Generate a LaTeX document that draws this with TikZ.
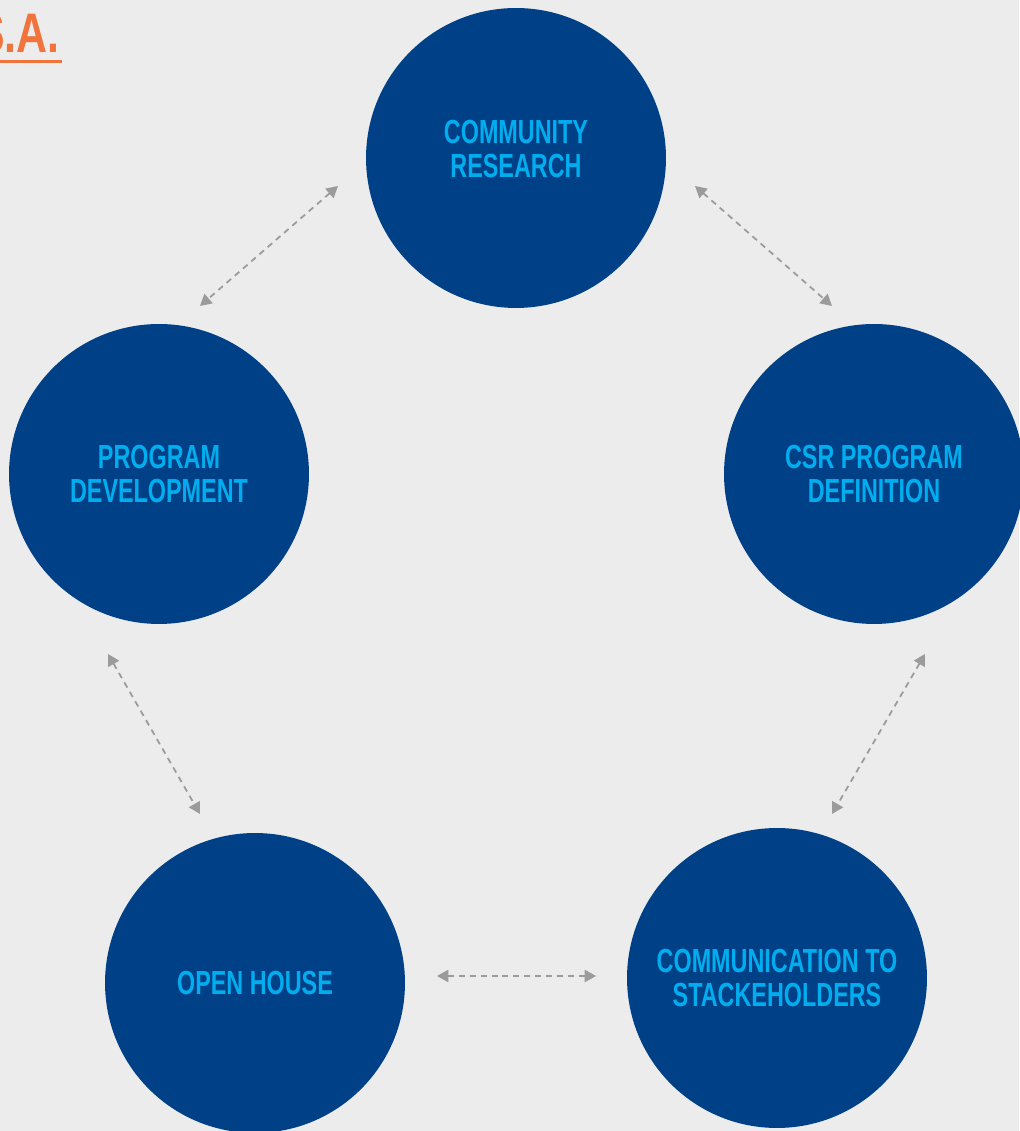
\documentclass[tikz,border=0pt]{standalone}
\usepackage{fontspec}
\setmainfont[FakeStretch=0.77]{Liberation Sans}
\newfontfamily\hubfont[FakeStretch=0.7]{Liberation Sans}
\usetikzlibrary{arrows.meta}
\definecolor{bgpaper}{RGB}{236,236,236}
\definecolor{hubblue}{RGB}{0,64,135}
\definecolor{hubcyan}{RGB}{0,174,239}
\definecolor{linkgray}{RGB}{155,155,155}
\definecolor{saorange}{RGB}{240,116,60}
\tikzset{
  hub/.style={circle, fill=hubblue, minimum size=6cm, inner sep=0pt,
    text=hubcyan, align=center, font=\hubfont\bfseries\fontsize{19}{19}\selectfont},
  hubtext/.style={text=hubcyan, align=center, inner sep=0pt,
    font=\hubfont\bfseries\fontsize{19}{19}\selectfont},
  link/.style={draw=linkgray, line width=1pt, dash pattern=on 3.4pt off 2.8pt,
    {Triangle[length=6.5pt,width=7pt]}-{Triangle[length=6.5pt,width=7pt]}}
}
\begin{document}
\begin{tikzpicture}[x=0.02cm,y=0.02cm]
\useasboundingbox (0,0) rectangle (1019,1131);
\fill[bgpaper] (0,0) rectangle (1019,1131);
% title fragment
\node[anchor=base east, inner sep=0pt, text=saorange,
  font=\fontsize{31.7}{32}\selectfont\bfseries] (sa) at (60,1078) {S.A.};
\draw[saorange, line width=1.7pt] ([shift={(-10,-8)}]sa.south west) -- ([shift={(2,-8)}]sa.south east);
% circles
\node[hub] (cr) at (516,973) {};
\node[hubtext] (crlbl) at ([shift={(0,9)}]cr.center) {COMMUNITY\\RESEARCH};
\node[hub] (pd) at (159,657) {PROGRAM\\DEVELOPMENT};
\node[hub] (csr) at (874,657) {CSR PROGRAM\\DEFINITION};
\node[hub] (oh) at (255,148) {OPEN HOUSE};
\node[hub] (com) at (777,153) {COMMUNICATION TO\\STACKEHOLDERS};
% links
\draw[link] ([shift={(-178,-28)}]cr.center) -- ([shift={(41,168)}]pd.center);
\draw[link] ([shift={(179,-28)}]cr.center) -- ([shift={(-42,168)}]csr.center);
\draw[link] ([shift={(-51,-180)}]pd.center) -- ([shift={(-55,169)}]oh.center);
\draw[link] ([shift={(51,-180)}]csr.center) -- ([shift={(55,164)}]com.center);
\draw[link] ([shift={(182,7)}]oh.center) -- ([shift={(-181,2)}]com.center);
\end{tikzpicture}
\end{document}
